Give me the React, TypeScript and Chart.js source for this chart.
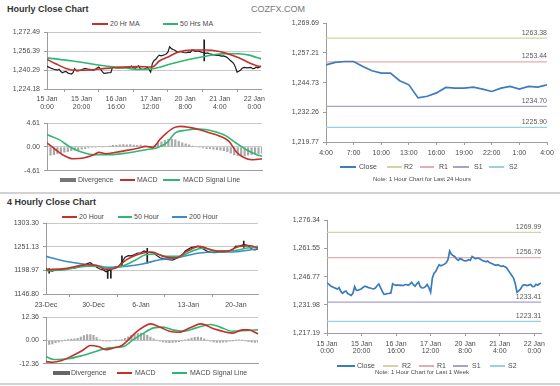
import React, { useEffect, useRef } from 'react';
import { Chart, registerables } from 'chart.js';

Chart.register(...registerables);

const FONT = '"Liberation Sans", Arial, Helvetica, sans-serif';
Chart.defaults.font.family = FONT;

const TEXT = '#4a4a4a';
const AXIS = '#9c9c9c';
const GRID = '#c9c9c9';
const RED = '#c4302b';
const GREEN = '#2fb772';
const BLUE200 = '#3a8dc8';
const CLOSE_BLUE = '#3b7cbc';
const BLACK = '#1e1e1e';
const DIV_GRAY = '#a8a8a8';
const R2C = '#d3d3a4';
const R1C = '#e6adad';
const S1C = '#a7a2cc';
const S2C = '#94d3e4';

// ---------- Hourly (last week, 1 point per hour) ----------
const hourlyTickPos = [0, 20, 40, 60, 80, 100, 120];
const hourlyTickLabels = [
  ['15 Jan', '0:00'], ['15 Jan', '20:00'], ['16 Jan', '16:00'], ['17 Jan', '12:00'],
  ['20 Jan', '8:00'], ['21 Jan', '4:00'], ['22 Jan', '0:00'],
];
const hourlyClose = [
  1243.4, 1242.8, 1242.0, 1241.5, 1241.0, 1240.6, 1240.2, 1241.0, 1239.0, 1238.0,
  1238.8, 1239.2, 1237.9, 1237.4, 1236.9, 1238.0, 1241.5, 1239.5, 1239.6, 1240.0,
  1240.4, 1241.2, 1241.7, 1241.4, 1241.0, 1240.8, 1240.5, 1240.3, 1240.8, 1242.0,
  1242.9, 1241.0, 1239.0, 1237.5, 1237.6, 1237.9, 1238.0, 1238.2, 1243.0, 1242.5,
  1242.2, 1242.4, 1242.2, 1242.3, 1242.0, 1242.5, 1242.6, 1242.2, 1242.8, 1243.8,
  1242.5, 1241.7, 1243.0, 1243.9, 1241.5, 1240.8, 1240.9, 1241.5, 1242.6, 1241.0,
  1238.6, 1246.0, 1248.5, 1249.5, 1251.5, 1253.0, 1252.4, 1252.8, 1253.3, 1254.0,
  1255.5, 1260.2, 1258.5, 1257.8, 1257.2, 1256.0, 1255.3, 1256.2, 1255.8, 1255.2,
  1255.0, 1255.1, 1255.6, 1255.3, 1257.3, 1256.8, 1256.1, 1256.5, 1256.3, 1255.8,
  1255.2, 1254.9, 1254.5, 1254.9, 1254.2, 1253.8, 1253.4, 1252.9, 1252.7, 1253.0,
  1252.5, 1252.1, 1252.4, 1251.9, 1251.3, 1250.0, 1248.6, 1247.3, 1246.0, 1243.0,
  1238.6, 1239.3, 1240.2, 1241.8, 1242.5, 1242.3, 1242.1, 1242.4, 1242.6, 1241.5,
  1241.6, 1242.7, 1242.2, 1243.0, 1243.4,
];
const hourlySpikeX = [91];
const hourlySpikeLow = [1248];
const hourlySpikeHigh = [1266];
const hourlyMA20X = [0, 5, 11, 17, 25, 34, 44, 53, 61, 65, 71, 76, 84, 92, 99, 105, 111, 117, 122, 124];
const hourlyMA20 = [1249.3, 1245.7, 1241.7, 1240.1, 1240.4, 1241.7, 1242.9, 1243.2, 1242.9, 1248.0, 1252.1, 1255.7, 1257.4, 1257.4, 1256.3, 1254.0, 1250.7, 1246.5, 1243.7, 1243.3];
const hourlyMA50X = [0, 15, 34, 44, 53, 61, 72, 82, 92, 103, 111, 117, 122, 124];
const hourlyMA50 = [1250.7, 1248.0, 1243.7, 1242.3, 1240.9, 1241.4, 1245.7, 1249.3, 1252.1, 1254.3, 1254.1, 1253.0, 1250.7, 1250.0];
const hourlyYTicks = [1224.18, 1240.29, 1256.39, 1272.49];

const hourlyMacdX = [0, 5, 9, 15, 21, 27, 30, 34, 39, 46, 53, 57, 61, 65, 69, 73, 77, 82, 88, 94, 99, 105, 109, 113, 118, 121, 124];
const hourlyMacd = [0.78, -0.53, -1.5, -2.28, -2.14, -1.5, -1.05, -1.3, -1.05, -0.66, -0.2, 0.12, -0.07, 1.42, 2.72, 3.7, 4.0, 3.8, 3.36, 2.72, 2.2, 1.09, -0.86, -1.95, -2.47, -2.4, -2.3];
const hourlySignalX = [0, 7, 13, 19, 27, 36, 46, 57, 63, 69, 74, 80, 88, 96, 103, 109, 115, 121, 124];
const hourlySignal = [2.4, 1.42, 0.06, -0.86, -1.5, -1.5, -1.17, -0.53, -0.2, 0.78, 2.72, 3.23, 3.5, 3.04, 2.2, 0.78, -0.53, -1.5, -1.8];
// divergence, one bar every 2 hours
const hourlyDivergence = [
  -1.5, -1.6, -1.5, -1.3, -1.1, -1.0, -0.9, -0.7, -0.6, -0.5,
  -0.4, -0.3, -0.2, -0.1, -0.1, 0.1, 0.0, 0.1, 0.2, 0.3,
  0.3, 0.4, 0.45, 0.4, 0.45, 0.35, 0.3, 0.35, 0.2, 0.1,
  0.0, 0.3, 0.7, 1.0, 1.3, 1.5, 1.55, 1.4, 1.1, 0.8,
  0.6, 0.4, 0.2, 0.1, -0.1, -0.2, -0.3, -0.3, -0.4, -0.5,
  -0.6, -0.7, -0.9, -1.2, -1.5, -1.7, -1.8, -1.7, -1.6, -1.5,
  -1.4, -1.3, -1.2,
];
const hourlyMacdTicks = [-4.61, 0, 4.61];

// ---------- Last 24 hours ----------
const dayTickPos = [0, 3, 6, 9, 12, 15, 18, 21, 24];
const dayTickLabels = ['4:00', '7:00', '10:00', '13:00', '16:00', '19:00', '22:00', '1:00', '4:00'];
const dayClose = [
  1252.2, 1253.2, 1253.6, 1253.6, 1251.5, 1249.7, 1248.7, 1248.7, 1245.5, 1243.8,
  1238.3, 1239.0, 1240.4, 1242.7, 1242.4, 1242.4, 1242.8, 1242.0, 1241.0, 1242.4,
  1243.1, 1242.0, 1243.1, 1242.8, 1243.8,
];
const dayYTicks = [1219.77, 1232.26, 1244.73, 1257.21, 1269.69];
const dayLevels = [1263.38, 1253.44, 1234.70, 1225.90]; // R2, R1, S1, S2

// ---------- Week levels ----------
const weekYTicks = [1217.19, 1231.98, 1246.77, 1261.55, 1276.34];
const weekLevels = [1269.99, 1256.76, 1233.41, 1223.31]; // R2, R1, S1, S2

// ---------- 4 Hourly ----------
const fourTickPos = [0, 30, 60, 90, 120];
const fourTickLabels = ['23-Dec', '30-Dec', '6-Jan', '13-Jan', '20-Jan'];
// one value every 2 bars (8 hours)
const fourHourClose = [
  1202.9, 1198.5, 1197.5, 1200.0, 1200.0, 1200.7, 1201.5, 1203.0, 1205.5, 1204.0,
  1206.0, 1209.0, 1210.5, 1214.0, 1216.0, 1211.0, 1206.0, 1202.0, 1200.5, 1196.0,
  1199.0, 1203.5, 1207.0, 1208.0, 1217.0, 1228.0, 1231.5, 1231.0, 1234.0, 1237.5,
  1238.0, 1242.0, 1239.5, 1239.0, 1237.5, 1232.0, 1227.0, 1225.0, 1223.0, 1222.5,
  1221.5, 1225.0, 1228.0, 1232.0, 1242.0, 1246.0, 1250.0, 1251.0, 1252.5, 1249.0,
  1245.0, 1241.0, 1239.5, 1238.0, 1238.8, 1240.2, 1240.0, 1241.0, 1242.0, 1244.7,
  1252.5, 1252.0, 1255.0, 1255.5, 1254.0, 1246.0, 1244.5, 1246.0,
];
const fourSpikeX = [2, 39, 41, 48, 64, 125];
const fourSpikeLow = [1193, 1181, 1182, 1208, 1215, 1250];
const fourSpikeHigh = [1203, 1200, 1200, 1231, 1248, 1264];
const fourMA20X = [0, 12, 26, 32, 38, 44, 51, 59, 67, 74, 82, 89, 97, 106, 114, 122, 129, 134];
const fourMA20 = [1200.7, 1202.9, 1211.7, 1210.2, 1200.7, 1204.3, 1222.7, 1235.1, 1239.5, 1230.0, 1226.3, 1241.0, 1252.0, 1242.5, 1241.0, 1252.0, 1253.5, 1248.3];
const fourMA50X = [0, 12, 26, 34, 40, 48, 57, 63, 70, 76, 84, 91, 99, 108, 118, 127, 134];
const fourMA50 = [1198.5, 1200.7, 1208.0, 1208.0, 1202.9, 1208.0, 1222.7, 1233.7, 1235.1, 1230.0, 1230.0, 1239.5, 1248.3, 1242.5, 1242.5, 1248.3, 1252.0];
const fourMA200X = [0, 8, 19, 29, 40, 51, 61, 72, 84, 97, 108, 118, 134];
const fourMA200 = [1230.0, 1222.7, 1215.3, 1210.2, 1205.8, 1208.0, 1213.1, 1222.7, 1227.8, 1237.3, 1239.5, 1239.5, 1246.9];
const fourYTicks = [1146.80, 1198.97, 1251.13, 1303.30];

const fourMacdX = [0, 4, 10, 17, 23, 28, 33, 38, 43, 48, 52, 57, 62, 66, 72, 78, 84, 91, 98, 106, 114, 118, 124, 128, 134];
const fourMacd = [-11.2, -11.5, -10.6, -7.95, -5.3, -2.65, -3.2, -4.9, -3.9, -2.65, 0.35, 4.4, 7.4, 8.8, 7.1, 4.9, 4.4, 6.7, 8.8, 6.2, 4.4, 3.9, 5.65, 5.65, 3.5];
const fourSignalX = [0, 5, 14, 23, 32, 40, 49, 55, 61, 68, 74, 80, 87, 95, 104, 110, 118, 127, 134];
const fourSignal = [-8.5, -10.1, -9.7, -7.95, -5.65, -3.9, -3.2, 0.35, 3.5, 6.7, 7.1, 5.65, 4.9, 6.7, 8.5, 7.1, 4.9, 5.3, 5.65];
// divergence, one bar every 2 bars
const fourDivergence = [
  -2.0, -2.1, -1.8, -1.2, -0.8, -0.4, 0.2, 0.5, 0.7, 0.9,
  1.2, 1.8, 2.6, 3.1, 3.2, 2.8, 1.5, 0.4, -0.2, -0.4,
  -0.3, 0.0, 0.1, 0.2, 0.5, 1.2, 2.0, 2.8, 3.4, 3.8,
  3.9, 3.5, 2.7, 1.8, 0.9, 0.2, -0.3, -0.7, -1.0, -1.1,
  -1.0, -0.9, -0.6, -0.2, 0.3, 0.8, 1.3, 1.7, 1.8, 1.5,
  0.9, 0.2, -0.4, -0.8, -1.0, -1.0, -0.9, -0.7, -0.4, -0.1,
  0.2, 0.3, 0.2, -0.2, -0.6, -0.9, -1.0, -0.9,
];
const fourMacdTicks = [-12.36, 0, 12.36];

// ---------- helpers ----------
const seq = (vals: number[], step = 1) => vals.map((y, i) => ({ x: i * step, y }));
const pts = (xs: number[], ys: number[]) => xs.map((x, i) => ({ x, y: ys[i] }));
const fmtComma = (v: number) => v.toLocaleString('en-US', { minimumFractionDigits: 2, maximumFractionDigits: 2 });
const fmtPlain = (v: number) => v.toFixed(2);

function xAxis(min: number, max: number, pos: number[], labels: any[], o: { show: boolean; height: number; padding?: number; lh?: number }) {
  return {
    type: 'linear', min, max, offset: false,
    afterBuildTicks: (s: any) => { s.ticks = pos.map((value) => ({ value })); },
    afterFit: (s: any) => { s.height = o.height; },
    ticks: {
      display: o.show, autoSkip: false, maxRotation: 0, minRotation: 0, padding: o.padding ?? 3,
      color: TEXT, font: { size: 7, lineHeight: o.lh ?? 8 / 7 },
      callback: (_v: any, i: number) => labels[i],
    },
    grid: { display: o.show, drawOnChartArea: false, drawTicks: true, tickLength: 3, color: AXIS, tickColor: AXIS },
    border: { display: true, color: AXIS },
  };
}

function yAxis(min: number, max: number, ticks: number[], fmt: (v: number) => string, o: { width: number; grid: boolean }) {
  return {
    type: 'linear', min, max,
    afterBuildTicks: (s: any) => { s.ticks = ticks.map((value) => ({ value })); },
    afterFit: (s: any) => { s.width = o.width; },
    ticks: { padding: 4, color: TEXT, font: { size: 7 }, callback: (v: any) => fmt(Number(v)) },
    grid: { drawOnChartArea: o.grid, color: GRID, tickColor: AXIS, tickLength: 3 },
    border: { color: AXIS },
  };
}

function options(x: any, y: any, padding: any) {
  return {
    responsive: false, animation: false, events: [],
    layout: { padding },
    plugins: { legend: { display: false }, tooltip: { enabled: false } },
    scales: { x, y },
  };
}

const levelLabelPlugin = {
  id: 'levelLabels',
  afterDatasetsDraw(chart: any) {
    const { ctx, chartArea, scales } = chart;
    chart.data.datasets.forEach((ds: any) => {
      if (ds.levelLabel == null) return;
      const y = scales.y.getPixelForValue(ds.levelLabel);
      ctx.save();
      ctx.font = `7px ${FONT}`;
      ctx.fillStyle = '#5a5a5a';
      ctx.textAlign = 'right';
      ctx.textBaseline = 'bottom';
      ctx.fillText(ds.levelLabel.toFixed(2), chartArea.right, y - 2);
      ctx.restore();
    });
  },
};

const line = (data: any[], color: string, width: number, order: number, smooth = false) => ({
  type: 'line', data, borderColor: color, borderWidth: width, pointRadius: 0, order,
  tension: smooth ? 0.4 : 0, cubicInterpolationMode: smooth ? 'monotone' : 'default', fill: false,
});
const bars = (data: any[], color: string, thick: number, order: number) => ({
  type: 'bar', data, backgroundColor: color, borderWidth: 0, barThickness: thick, order, grouped: false,
});
const levels = (vals: number[], maxX: number) => {
  const cols = [R2C, R1C, S1C, S2C];
  return vals.map((v, i) => ({
    ...line([{ x: 0, y: v }, { x: maxX, y: v }], cols[i], 1.2, 5), levelLabel: v,
  }));
};

const PAD0 = { top: 0, right: 0, left: 0, bottom: 0 };

// ---------- chart configs ----------
const cfgHourly = () => ({
  type: 'line',
  data: {
    datasets: [
      line(seq(hourlyClose), BLACK, 1.2, 3),
      bars(hourlySpikeX.map((x, i) => ({ x, y: [hourlySpikeLow[i], hourlySpikeHigh[i]] })), BLACK, 1, 3),
      line(pts(hourlyMA50X, hourlyMA50), GREEN, 1.6, 2, true),
      line(pts(hourlyMA20X, hourlyMA20), RED, 1.6, 1, true),
    ],
  },
  options: options(
    xAxis(0, 124, hourlyTickPos, hourlyTickLabels, { show: true, height: 22 }),
    yAxis(1224.18, 1272.49, hourlyYTicks, fmtComma, { width: 47, grid: true }),
    { ...PAD0, right: 6 },
  ),
});

const cfgHourlyMacd = () => ({
  type: 'line',
  data: {
    datasets: [
      bars(seq(hourlyDivergence, 2), DIV_GRAY, 1.5, 3),
      line(pts(hourlySignalX, hourlySignal), GREEN, 1.6, 2, true),
      line(pts(hourlyMacdX, hourlyMacd), RED, 1.6, 1, true),
    ],
  },
  options: options(
    xAxis(0, 124, [], [], { show: false, height: 0 }),
    yAxis(-4.61, 4.61, hourlyMacdTicks, fmtPlain, { width: 47, grid: true }),
    { ...PAD0, right: 6 },
  ),
});

const cfgDay = () => ({
  type: 'line',
  data: {
    datasets: [
      ...levels(dayLevels, 24),
      line(seq(dayClose), CLOSE_BLUE, 1.7, 1),
    ],
  },
  options: options(
    xAxis(0, 24, dayTickPos, dayTickLabels, { show: true, height: 15, padding: 4 }),
    yAxis(1219.77, 1269.69, dayYTicks, fmtComma, { width: 46, grid: false }),
    { ...PAD0, right: 11 },
  ),
  plugins: [levelLabelPlugin],
});

const cfgFour = () => ({
  type: 'line',
  data: {
    datasets: [
      line(seq(fourHourClose, 2), BLACK, 1.2, 4),
      bars(fourSpikeX.map((x, i) => ({ x, y: [fourSpikeLow[i], fourSpikeHigh[i]] })), BLACK, 1, 4),
      line(pts(fourMA200X, fourMA200), BLUE200, 1.6, 3, true),
      line(pts(fourMA50X, fourMA50), GREEN, 1.6, 2, true),
      line(pts(fourMA20X, fourMA20), RED, 1.6, 1, true),
    ],
  },
  options: options(
    xAxis(0, 134, fourTickPos, fourTickLabels, { show: true, height: 15, padding: 4 }),
    yAxis(1146.80, 1303.30, fourYTicks, fmtPlain, { width: 46, grid: true }),
    { ...PAD0, right: 4 },
  ),
});

const cfgFourMacd = () => ({
  type: 'line',
  data: {
    datasets: [
      bars(seq(fourDivergence, 2), DIV_GRAY, 1.5, 3),
      line(pts(fourSignalX, fourSignal), GREEN, 1.6, 2, true),
      line(pts(fourMacdX, fourMacd), RED, 1.6, 1, true),
    ],
  },
  options: options(
    xAxis(0, 134, [], [], { show: false, height: 0 }),
    yAxis(-12.36, 12.36, fourMacdTicks, fmtPlain, { width: 46, grid: true }),
    { ...PAD0, right: 4 },
  ),
});

const cfgWeek = () => ({
  type: 'line',
  data: {
    datasets: [
      ...levels(weekLevels, 124),
      line(seq(hourlyClose), CLOSE_BLUE, 1.7, 1),
    ],
  },
  options: options(
    xAxis(0, 124, hourlyTickPos, hourlyTickLabels, { show: true, height: 22, padding: 5, lh: 1 }),
    yAxis(1217.19, 1276.34, weekYTicks, fmtComma, { width: 47, grid: false }),
    { ...PAD0, right: 7 },
  ),
  plugins: [levelLabelPlugin],
});

// ---------- components ----------
function ChartCanvas({ left, top, width, height, build }: any) {
  const ref = useRef<HTMLCanvasElement | null>(null);
  useEffect(() => {
    const chart = new Chart(ref.current as HTMLCanvasElement, build());
    return () => chart.destroy();
  }, []);
  return (
    <canvas ref={ref} width={width} height={height}
      style={{ position: 'absolute', left, top, width, height }} />
  );
}

type LegendItem = { x: number; tx: number; w: number; color: string; text: string; bar?: boolean };
function Legend({ y, items }: { y: number; items: LegendItem[] }) {
  const yc = Math.round(y);
  return (
    <>
      {items.map((it, i) => (
        <React.Fragment key={i}>
          <div style={{
            position: 'absolute', left: it.x, top: yc - (it.bar ? 2 : 1), width: it.w,
            height: it.bar ? 4 : 2, background: it.color,
          }} />
          <div style={{
            position: 'absolute', left: it.tx, top: yc - 5, lineHeight: '10px', fontSize: 7,
            color: TEXT, whiteSpace: 'nowrap', fontFamily: FONT,
          }}>{it.text}</div>
        </React.Fragment>
      ))}
    </>
  );
}

function Note({ y, cx, text }: { y: number; cx: number; text: string }) {
  return (
    <div style={{
      position: 'absolute', left: cx - 100, width: 200, top: y - 4, lineHeight: '8px',
      fontSize: 6, color: TEXT, textAlign: 'center', fontFamily: FONT, whiteSpace: 'nowrap',
    }}>{text}</div>
  );
}

export default function App() {
  const title = { position: 'absolute' as const, fontFamily: FONT, fontWeight: 700, fontSize: 9, color: '#333', lineHeight: '10px', whiteSpace: 'nowrap' as const };
  return (
    <div style={{ position: 'absolute', left: 0, top: 0, width: 560, height: 386, background: '#fff', overflow: 'hidden' }}>
      <div style={{ ...title, left: 7, top: 4 }}>Hourly Close Chart</div>
      <div style={{ position: 'absolute', left: 251, top: 4, fontFamily: FONT, fontSize: 9, color: '#777', lineHeight: '10px' }}>COZFX.COM</div>
      <div style={{ ...title, left: 7, top: 197 }}>4 Hourly Close Chart</div>

      <div style={{ position: 'absolute', left: 0, top: 192, width: 560, height: 2, background: '#d2d2d2' }} />
      <div style={{ position: 'absolute', left: 0, top: 383, width: 560, height: 2, background: '#d2d2d2' }} />

      <Legend y={24} items={[
        { x: 92, w: 16, tx: 110, color: RED, text: '20 Hr MA' },
        { x: 163, w: 15, tx: 180, color: GREEN, text: '50 Hrs MA' },
      ]} />
      <ChartCanvas left={0} top={24} width={268} height={87} build={cfgHourly} />

      <ChartCanvas left={0} top={115} width={268} height={64} build={cfgHourlyMacd} />
      <Legend y={180} items={[
        { x: 60, w: 16, tx: 78, color: '#777', text: 'Divergence', bar: true },
        { x: 120, w: 15, tx: 137, color: RED, text: 'MACD' },
        { x: 163, w: 17, tx: 183, color: GREEN, text: 'MACD Signal Line' },
      ]} />

      <ChartCanvas left={280} top={15} width={278} height={142} build={cfgDay} />
      <Legend y={167} items={[
        { x: 340, w: 16, tx: 359, color: CLOSE_BLUE, text: 'Close' },
        { x: 387, w: 15, tx: 404, color: R2C, text: 'R2' },
        { x: 420, w: 14, tx: 439, color: R1C, text: 'R1' },
        { x: 453, w: 16, tx: 474, color: S1C, text: 'S1' },
        { x: 489, w: 15, tx: 509, color: S2C, text: 'S2' },
      ]} />
      <Note y={179.3} cx={422} text="Note: 1 Hour Chart for Last 24 Hours" />

      <Legend y={217} items={[
        { x: 62, w: 15, tx: 79, color: RED, text: '20 Hour' },
        { x: 118, w: 14, tx: 134, color: GREEN, text: '50 Hour' },
        { x: 172, w: 15, tx: 189, color: BLUE200, text: '200 Hour' },
      ]} />
      <ChartCanvas left={0} top={215} width={262} height={94} build={cfgFour} />

      <ChartCanvas left={0} top={309} width={262} height={63} build={cfgFourMacd} />
      <Legend y={373} items={[
        { x: 53, w: 17, tx: 71, color: '#666', text: 'Divergence', bar: true },
        { x: 117, w: 15, tx: 135, color: RED, text: 'MACD' },
        { x: 172, w: 15, tx: 190, color: GREEN, text: 'MACD Signal Line' },
      ]} />

      <ChartCanvas left={280} top={212} width={270} height={143} build={cfgWeek} />
      <Legend y={366} items={[
        { x: 337, w: 18, tx: 357, color: CLOSE_BLUE, text: 'Close' },
        { x: 383, w: 15, tx: 402, color: R2C, text: 'R2' },
        { x: 419, w: 15, tx: 437, color: R1C, text: 'R1' },
        { x: 453, w: 15, tx: 472, color: S1C, text: 'S1' },
        { x: 490, w: 15, tx: 508, color: S2C, text: 'S2' },
      ]} />
      <Note y={372.3} cx={422} text="Note: 1 Hour Chart for Last 1 Week" />
    </div>
  );
}
